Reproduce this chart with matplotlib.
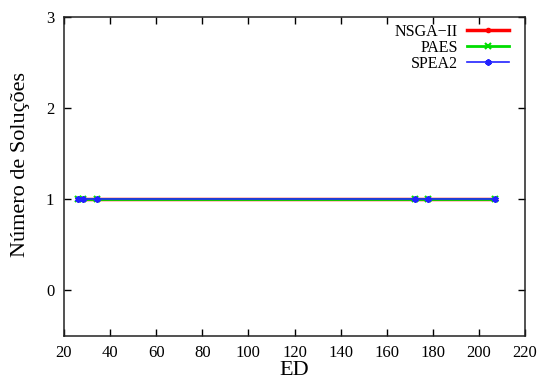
import numpy as np
import matplotlib
matplotlib.use('Agg')
import matplotlib.pyplot as plt

# Data
ed_nsga2 = [26.1, 28.4, 34.3, 172.3, 178.0, 207.0]
sol_nsga2 = [1, 1, 1, 1, 1, 1]
ed_paes = [26.1, 28.4, 34.3, 172.3, 178.0, 207.0]
sol_paes = [1, 1, 1, 1, 1, 1]
ed_spea2 = [26.1, 28.4, 34.3, 172.3, 178.0, 207.0]
sol_spea2 = [1, 1, 1, 1, 1, 1]

x_ticks = [20, 40, 60, 80, 100, 120, 140, 160, 180, 200, 220]
y_ticks = [0, 1, 2, 3]

plt.rcParams['font.family'] = ['Liberation Serif', 'DejaVu Serif']

fig = plt.figure(figsize=(5.4, 3.83), dpi=100)
ax = fig.add_axes([64/540, 1 - 335.5/383, (525 - 64)/540, (335.5 - 17)/383])

ax.plot(ed_nsga2, sol_nsga2, color='#ff0000', lw=2.5, marker='o', ms=3,
        label='NSGA\u2212II')
ax.plot(ed_paes, sol_paes, color='#00dd00', lw=2.0, marker='x', ms=4.5, mew=1.5,
        label='PAES')
ax.plot(ed_spea2, sol_spea2, color='#2222ff', lw=1.2, marker=(6, 2, 0), ms=4.5, mew=1.5,
        label='SPEA2')

ax.set_xlim(20, 220)
ax.set_ylim(-0.5, 3)
ax.set_xticks(x_ticks)
ax.set_yticks(y_ticks)
ax.tick_params(direction='in', length=5, width=1, top=True, right=True,
               labelsize=12, colors='black')
ax.tick_params(axis='x', pad=7)
ax.tick_params(axis='y', pad=7)
for s in ax.spines.values():
    s.set_linewidth(1.1)
    s.set_color('#222222')

ax.set_xlabel('ED', fontsize=16, labelpad=0)
ax.set_ylabel('Número de Soluções', fontsize=16)
ax.yaxis.label.set_va('center')
ax.yaxis.set_label_coords((20.7 - 64) / 461, 0.537)

# legend: text to the left of the sample, like gnuplot
leg = ax.legend(loc='upper right', frameon=False, markerfirst=False, fontsize=11.5,
                handlelength=2.6, handletextpad=0.55, labelspacing=0.0,
                borderaxespad=0.2, bbox_to_anchor=(0.985, 1.008))

fig.savefig('out.png', dpi=100)
